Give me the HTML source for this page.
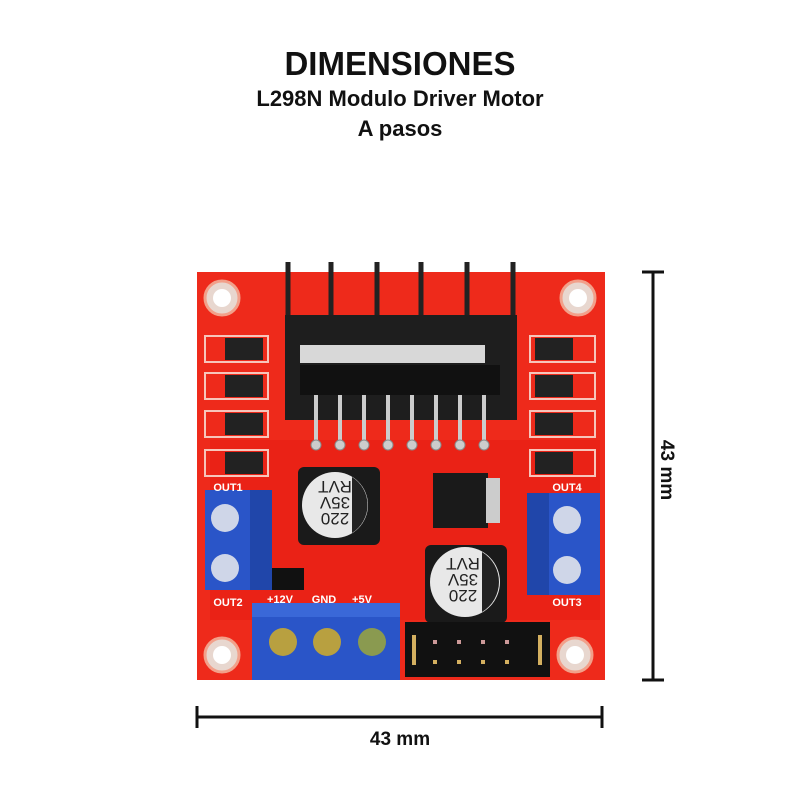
<!DOCTYPE html>
<html><head><style>
body{margin:0;background:#fff;width:800px;height:800px;overflow:hidden;font-family:"Liberation Sans",sans-serif}
</style></head><body>
<svg width="800" height="800" viewBox="0 0 800 800" xmlns="http://www.w3.org/2000/svg">
<rect width="800" height="800" fill="#fff"/>
<g font-family="Liberation Sans, sans-serif" font-weight="bold" fill="#111" text-anchor="middle">
<text x="400" y="75" font-size="33">DIMENSIONES</text>
<text x="400" y="106" font-size="22">L298N Modulo Driver Motor</text>
<text x="400" y="136" font-size="22">A pasos</text>
<text x="400" y="745" font-size="19">43 mm</text>
<text transform="translate(661,470) rotate(90)" font-size="19">43 mm</text>
</g>
<g stroke="#111" stroke-width="3">
<line x1="653" y1="272" x2="653" y2="680"/><line x1="642" y1="272" x2="664" y2="272"/><line x1="642" y1="680" x2="664" y2="680"/>
<line x1="197" y1="717" x2="602" y2="717"/><line x1="197" y1="706" x2="197" y2="728"/><line x1="602" y1="706" x2="602" y2="728"/>
</g>
<rect x="197" y="272" width="408" height="408" fill="#ee2a1b"/>
<rect x="210" y="440" width="390" height="180" fill="#e81e14" opacity=".6"/>
<g fill="#e8d7cf" stroke="#f2a08a" stroke-width="3">
<circle cx="222" cy="298" r="17"/><circle cx="578" cy="298" r="17"/><circle cx="222" cy="655" r="17"/><circle cx="575" cy="655" r="17"/>
</g>
<g fill="#fff"><circle cx="222" cy="298" r="9"/><circle cx="578" cy="298" r="9"/><circle cx="222" cy="655" r="9"/><circle cx="575" cy="655" r="9"/></g>
<g stroke="#222" stroke-width="5">
<line x1="288" y1="262" x2="288" y2="340"/><line x1="331" y1="262" x2="331" y2="320"/><line x1="377" y1="262" x2="377" y2="320"/><line x1="421" y1="262" x2="421" y2="320"/><line x1="467" y1="262" x2="467" y2="320"/><line x1="513" y1="262" x2="513" y2="340"/>
</g>
<rect x="285" y="315" width="232" height="105" fill="#1e1e1e"/>
<rect x="300" y="345" width="185" height="18" fill="#d8d8d8"/>
<rect x="300" y="365" width="200" height="30" fill="#111"/>
<g stroke="#ccc" stroke-width="4">
<line x1="316" y1="395" x2="316" y2="445"/><line x1="340" y1="395" x2="340" y2="445"/><line x1="364" y1="395" x2="364" y2="445"/><line x1="388" y1="395" x2="388" y2="445"/><line x1="412" y1="395" x2="412" y2="445"/><line x1="436" y1="395" x2="436" y2="445"/><line x1="460" y1="395" x2="460" y2="445"/><line x1="484" y1="395" x2="484" y2="445"/>
</g>
<g fill="#ccc" stroke="#888"><circle cx="316" cy="445" r="5"/><circle cx="340" cy="445" r="5"/><circle cx="364" cy="445" r="5"/><circle cx="388" cy="445" r="5"/><circle cx="412" cy="445" r="5"/><circle cx="436" cy="445" r="5"/><circle cx="460" cy="445" r="5"/><circle cx="484" cy="445" r="5"/></g>
<g fill="#222">
<rect x="225" y="338" width="38" height="22"/><rect x="225" y="375" width="38" height="22"/><rect x="225" y="413" width="38" height="22"/><rect x="225" y="452" width="38" height="22"/>
<rect x="535" y="338" width="38" height="22"/><rect x="535" y="375" width="38" height="22"/><rect x="535" y="413" width="38" height="22"/><rect x="535" y="452" width="38" height="22"/>
</g>
<g fill="none" stroke="#f7c5bb" stroke-width="2">
<rect x="205" y="336" width="63" height="26"/><rect x="205" y="373" width="63" height="26"/><rect x="205" y="411" width="63" height="26"/><rect x="205" y="450" width="63" height="26"/>
<rect x="530" y="336" width="65" height="26"/><rect x="530" y="373" width="65" height="26"/><rect x="530" y="411" width="65" height="26"/><rect x="530" y="450" width="65" height="26"/>
</g>
<rect x="298" y="467" width="82" height="78" rx="6" fill="#1a1a1a"/>
<circle cx="335" cy="505" r="33" fill="#e8e8e8"/><path d="M352,477 A33,33 0 0 1 352,533 Z" fill="#222"/>
<rect x="425" y="545" width="82" height="78" rx="6" fill="#1a1a1a"/>
<circle cx="465" cy="582" r="35" fill="#e8e8e8"/><path d="M482,552 A35,35 0 0 1 482,612 Z" fill="#222"/>
<g font-size="17" fill="#222" text-anchor="middle">
<text transform="translate(335,505) rotate(180)" y="-8">220</text><text transform="translate(335,505) rotate(180)" y="8">35V</text><text transform="translate(335,505) rotate(180)" y="24">RVT</text>
<text transform="translate(463,582) rotate(180)" y="-8">220</text><text transform="translate(463,582) rotate(180)" y="8">35V</text><text transform="translate(463,582) rotate(180)" y="24">RVT</text>
</g>
<rect x="433" y="473" width="55" height="55" fill="#1a1a1a"/><rect x="486" y="478" width="14" height="45" fill="#ccc"/>
<rect x="205" y="490" width="67" height="100" fill="#2a55c8"/><rect x="250" y="490" width="22" height="100" fill="#2046aa"/>
<circle cx="225" cy="518" r="14" fill="#cfd6e8"/><circle cx="225" cy="568" r="14" fill="#cfd6e8"/>
<rect x="527" y="493" width="73" height="102" fill="#2a55c8"/><rect x="527" y="493" width="22" height="102" fill="#2046aa"/>
<circle cx="567" cy="520" r="14" fill="#cfd6e8"/><circle cx="567" cy="570" r="14" fill="#cfd6e8"/>
<rect x="252" y="603" width="148" height="77" fill="#2a55c8"/>
<rect x="252" y="603" width="148" height="14" fill="#3a68d8"/>
<circle cx="283" cy="642" r="14" fill="#b8a040"/><circle cx="327" cy="642" r="14" fill="#b8a040"/><circle cx="372" cy="642" r="14" fill="#8a9a50"/>
<rect x="272" y="568" width="32" height="22" fill="#111"/>
<rect x="405" y="622" width="145" height="55" fill="#111"/>
<g fill="#c99"><rect x="433" y="640" width="4" height="4"/><rect x="457" y="640" width="4" height="4"/><rect x="481" y="640" width="4" height="4"/><rect x="505" y="640" width="4" height="4"/></g>
<g fill="#d4b060"><rect x="433" y="660" width="4" height="4"/><rect x="457" y="660" width="4" height="4"/><rect x="481" y="660" width="4" height="4"/><rect x="505" y="660" width="4" height="4"/><rect x="412" y="635" width="4" height="30"/><rect x="538" y="635" width="4" height="30"/></g>
<g fill="#fff" font-size="11" font-weight="bold" text-anchor="middle">
<text x="228" y="491">OUT1</text><text x="228" y="606">OUT2</text><text x="567" y="491">OUT4</text><text x="567" y="606">OUT3</text>
<text x="280" y="603">+12V</text><text x="324" y="603">GND</text><text x="362" y="603">+5V</text>
</g>
</svg>
</body></html>
